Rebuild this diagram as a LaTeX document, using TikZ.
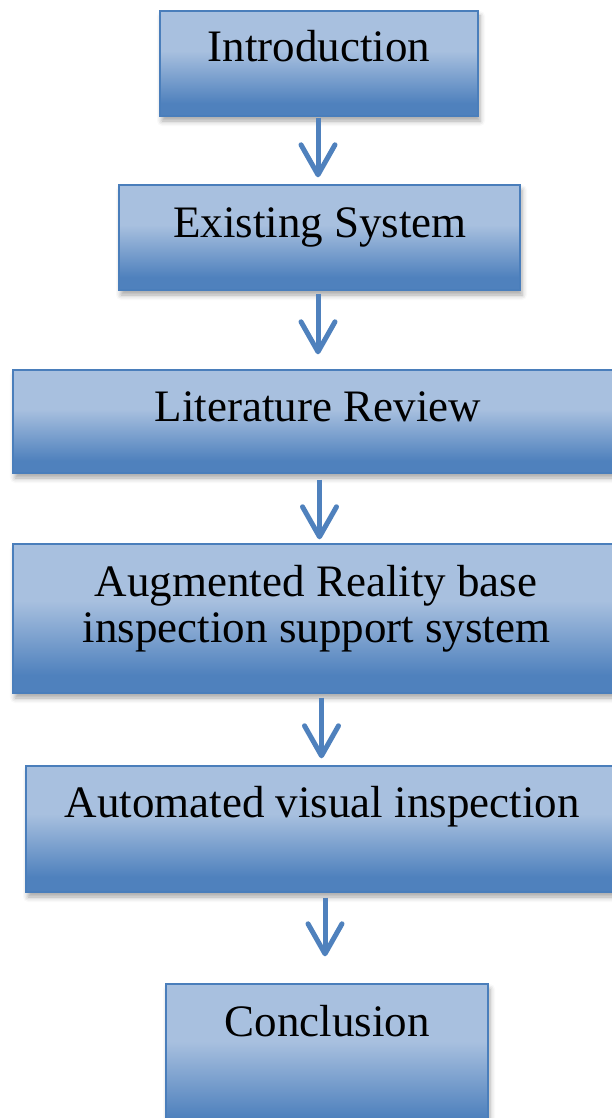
\documentclass[tikz,border=0pt]{standalone}
\usepackage{fontspec}
\setmainfont{Liberation Serif}
\usetikzlibrary{arrows.meta,shadows.blur}

\definecolor{bflight}{HTML}{A8C0DF}
\definecolor{bfdark}{HTML}{4F81BD}
\definecolor{bfedge}{HTML}{4A7EBB}
\definecolor{flowblue}{HTML}{4F81BD}

% light at the top, darkening towards the lower part of each box
\pgfdeclareverticalshading{boxfill}{100bp}{%
  color(0bp)=(bfdark); color(25bp)=(bfdark); color(31bp)=(bfdark);
  color(56bp)=(bflight); color(75bp)=(bflight); color(100bp)=(bflight)}

\tikzset{
  box/.style={rectangle, draw=bfedge, line width=1.4pt, shading=boxfill,
    inner sep=0pt,
    blur shadow={shadow xshift=2pt, shadow yshift=-5pt,
      shadow blur radius=5pt, shadow opacity=35}},
  lbl/.style={inner sep=0pt, anchor=base, font=\fontsize{45}{46}\selectfont},
  flow/.style={draw=flowblue, line width=5pt,
    -{Straight Barb[length=30pt, width=34pt, round]}}
}

\begin{document}
\begin{tikzpicture}[x=1pt, y=-1pt]
\useasboundingbox (0,0) rectangle (611,1118);

% process boxes
\node[box, minimum width=318pt, minimum height=105pt] (b1) at (319,63.5) {};
\node[box, minimum width=401pt, minimum height=105pt] (b2) at (319.5,237.5) {};
\node[box, minimum width=610pt, minimum height=103pt] (b3) at (318,421.5) {};
\node[box, minimum width=606pt, minimum height=149pt] (b4) at (316,618.5) {};
\node[box, minimum width=592pt, minimum height=126pt] (b5) at (322,829) {};
\node[box, minimum width=322pt, minimum height=151pt] (b6) at (327,1059.5) {};

% box captions
\node[lbl] (t1) at (319,62) {Introduction};
\node[lbl] (t2) at (320,237) {Existing System};
\node[lbl] (t3) at (318,421) {Literature Review};
\node[lbl] (t4a) at (316,596) {Augmented Reality base};
\node[lbl] (t4b) at (316.5,642) {inspection support system};
\node[lbl] (t5) at (322,817) {Automated visual inspection};
\node[lbl] (t6) at (327,1036) {Conclusion};

% connectors
\draw[flow, shorten <=1pt, shorten >=7pt]  (b1.south -| 318,0) -- (b2.north -| 318,0);
\draw[flow, shorten <=3pt, shorten >=15pt] (b2.south -| 318,0) -- (b3.north -| 318,0);
\draw[flow, shorten <=6pt, shorten >=4pt]  (b3.south -| 319.5,0) -- (b4.north -| 319.5,0);
\draw[flow, shorten <=4pt, shorten >=7pt]  (b4.south -| 321.5,0) -- (b5.north -| 321.5,0);
\draw[flow, shorten <=5pt, shorten >=27pt] (b5.south -| 325,0) -- (b6.north -| 325,0);
\end{tikzpicture}
\end{document}
